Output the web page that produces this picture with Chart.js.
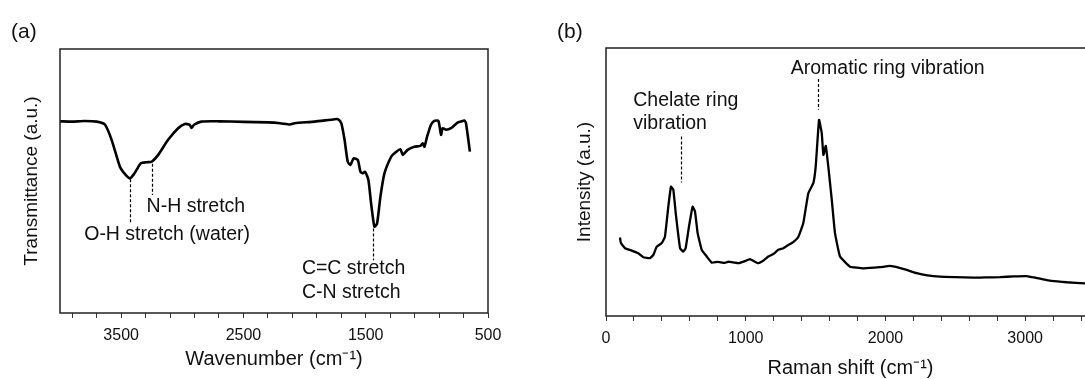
<!DOCTYPE html>
<html>
<head>
<meta charset="utf-8">
<script src="https://cdn.jsdelivr.net/npm/chart.js@4.4.1/dist/chart.umd.min.js"></script>
<style>
  html, body { margin: 0; padding: 0; background: #fff; overflow: hidden; }
  body { width: 1085px; height: 379px; position: relative; }
  #ftir { position: absolute; left: 0; top: 0; }
  #raman { position: absolute; left: 545px; top: 0; }
</style>
</head>
<body>
<canvas id="ftir" width="540" height="379"></canvas>
<canvas id="raman" width="560" height="379"></canvas>
<script>
// ---------- (a) FTIR ----------
const ftirWavenumber = [4000, 3900, 3800, 3700, 3633, 3578, 3510, 3470, 3429, 3400, 3374, 3339, 3292, 3251, 3197, 3116, 3034, 2980, 2939, 2925, 2904, 2844,
  2700, 2500, 2300, 2200, 2120, 2082, 1918, 1755, 1728, 1700, 1673, 1647, 1625, 1598, 1565, 1543, 1524, 1505, 1478, 1456, 1429, 1407, 1380, 1347,
  1292, 1265, 1216, 1198, 1157, 1102, 1053, 1034, 1020, 998, 966, 939, 906, 884, 871, 843, 802, 749, 721, 694, 680, 648];
const ftirTransmittance = [72.6, 72.5, 72.7, 72.5, 71.4, 65.6, 55.4, 52.7, 51.0, 52.3, 54.2, 56.7, 57.1, 57.3, 59.9, 65.6, 70.0, 71.6, 71.3, 70.1, 71.3, 72.5,
  72.6, 72.4, 72.2, 71.9, 71.4, 71.9, 72.5, 73.4, 73.4, 71.9, 65.6, 57.3, 56.1, 58.6, 58.0, 53.5, 52.9, 53.5, 50.4, 41.5, 32.7, 33.9, 44.0, 52.9,
  59.2, 60.5, 62.0, 59.9, 61.8, 63.0, 63.3, 64.3, 63.0, 66.8, 71.3, 72.8, 72.8, 67.5, 70.0, 69.4, 70.0, 72.1, 72.5, 72.9, 71.9, 61.1];
const ftirTicks = [3900, 3700, 3500, 3300, 3100, 2900, 2700, 2500, 2300, 2100, 1900, 1700, 1500, 1300, 1100, 900, 700, 500];
const ftirTickLabels = [3500, 2500, 1500, 500];

// ---------- (b) Raman ----------
const ramanShift = [100, 107, 136, 184, 231, 267, 315, 339, 363, 399, 422, 446, 465, 482, 499, 530, 553, 570, 594, 620, 637, 656, 685, 721, 757,
  800, 850, 876, 920, 947, 990, 1031, 1060, 1090, 1130, 1162, 1200, 1233, 1270, 1305, 1340, 1377, 1412, 1448, 1484, 1501, 1525, 1544, 1556, 1573,
  1591, 1616, 1639, 1675, 1747, 1842, 1961, 2033, 2100, 2152, 2224, 2300, 2391, 2500, 2629, 2720, 2820, 2920, 3011, 3080, 3155, 3230, 3298, 3429, 3500];
const ramanIntensity = [29.3, 27.2, 25.3, 24.4, 23.4, 21.9, 21.6, 22.8, 25.9, 27.2, 29.6, 40.8, 48.3, 47.1, 38.4, 25.3, 24.0, 25.3, 33.4, 40.8, 39.0, 30.9, 24.7, 22.2, 19.9,
  20.2, 19.8, 20.3, 19.9, 19.7, 20.4, 21.2, 20.4, 19.7, 20.8, 22.2, 23.2, 24.7, 25.3, 26.5, 27.6, 29.6, 34.6, 45.8, 49.6, 55.8, 73.2, 68.3, 60.1, 63.5,
  55.8, 43.3, 30.9, 22.2, 18.4, 17.8, 18.2, 18.7, 18.0, 17.2, 16.0, 15.2, 14.7, 14.5, 14.3, 14.4, 14.5, 14.8, 14.9, 14.2, 13.4, 12.9, 12.6, 12.2, 12.0];
const ramanTicks = [0, 200, 400, 600, 800, 1000, 1200, 1400, 1600, 1800, 2000, 2200, 2400, 2600, 2800, 3000, 3200, 3400];
const ramanTickLabels = [0, 1000, 2000, 3000];

// annotations, in data units
const ftirLeaders = [{ x: 3429, y1: 50.7, y2: 33.7 }, { x: 3251, y1: 56.5, y2: 44.7 }, { x: 1443, y1: 32.0, y2: 20.0 }];
const ftirNotes = [
  { text: 'N-H stretch', x: 3292, y: 38.1 },
  { text: 'O-H stretch (water)', x: 3802, y: 27.6 },
  { text: 'C=C stretch', x: 2022, y: 14.6 },
  { text: 'C-N stretch', x: 2022, y: 5.5 }
];
const ramanLeaders = [{ x: 535, y1: 67.0, y2: 49.8 }, { x: 1515, y1: 88.4, y2: 77.0 }];
const ramanNotes = [
  { text: 'Chelate ring', x: 195, y: 78.2 },
  { text: 'vibration', x: 195, y: 69.8 },
  { text: 'Aromatic ring vibration', x: 1322, y: 90.4 }
];

const FONT = '"Liberation Sans", Arial, Helvetica, sans-serif';
Chart.defaults.font.family = FONT;
Chart.defaults.color = '#111';

const framePlugin = {
  id: 'frame',
  afterDraw(chart, args, opts) {
    const { ctx, chartArea: a, scales: { x, y } } = chart;
    ctx.save();
    ctx.strokeStyle = '#222';
    ctx.lineWidth = 1.5;
    ctx.strokeRect(a.left, a.top, a.right - a.left, a.bottom - a.top);
    ctx.strokeStyle = '#000';
    ctx.lineWidth = 1.2;
    ctx.setLineDash([3, 2]);
    opts.leaders.forEach(l => {
      const px = Math.round(x.getPixelForValue(l.x)) + 0.5;
      ctx.beginPath();
      ctx.moveTo(px, y.getPixelForValue(l.y1));
      ctx.lineTo(px, y.getPixelForValue(l.y2));
      ctx.stroke();
    });
    ctx.setLineDash([]);
    ctx.fillStyle = '#111';
    ctx.textBaseline = 'alphabetic';
    ctx.textAlign = 'left';
    ctx.font = '19.5px ' + FONT;
    opts.notes.forEach(n => ctx.fillText(n.text, x.getPixelForValue(n.x), y.getPixelForValue(n.y)));
    ctx.font = '21px ' + FONT;
    ctx.fillText(opts.panel, opts.panelX, 38);
    ctx.restore();
  }
};

function makeChart(id, cfg) {
  const pts = cfg.xs.map((v, i) => ({ x: v, y: cfg.ys[i] }));
  return new Chart(document.getElementById(id), {
    type: 'line',
    data: { datasets: [{ data: pts, borderColor: '#000', borderWidth: cfg.lineWidth, pointRadius: 0, tension: cfg.tension, fill: false }] },
    options: {
      responsive: false,
      animation: false,
      layout: { padding: cfg.padding },
      plugins: { legend: { display: false }, tooltip: { enabled: false }, frame: cfg.frame },
      scales: {
        x: {
          type: 'linear', min: cfg.min, max: cfg.max, reverse: cfg.reverse,
          afterBuildTicks: ax => { ax.ticks = cfg.ticks.map(v => ({ value: v })); },
          afterFit: ax => { ax.height = cfg.xHeight; },
          ticks: { autoSkip: false, maxRotation: 0, padding: cfg.tickPad, font: { size: 16 }, color: '#111',
            callback: v => cfg.labels.includes(v) ? String(v) : '' },
          grid: { display: true, drawOnChartArea: false, drawTicks: true, tickLength: 5, tickColor: '#333', tickWidth: 1 },
          border: { display: false },
          title: { display: true, text: cfg.xTitle, font: { size: 20, lineHeight: 1 }, color: '#111', padding: { top: 0, bottom: cfg.xTitlePad } }
        },
        y: {
          min: 0, max: 100,
          afterFit: ax => { ax.width = cfg.yWidth; },
          ticks: { display: false },
          grid: { display: false },
          border: { display: false },
          title: { display: true, text: cfg.yTitle, font: { size: 19, lineHeight: 1.2 }, color: '#111', padding: { top: cfg.yTitlePad, bottom: 0 } }
        }
      }
    },
    plugins: [framePlugin]
  });
}

makeChart('ftir', {
  xs: ftirWavenumber, ys: ftirTransmittance, lineWidth: 2.6, tension: 0.2,
  min: 500, max: 4000, reverse: true, ticks: ftirTicks, labels: ftirTickLabels,
  padding: { left: 0, top: 49, right: 52, bottom: 0 }, xHeight: 66, yWidth: 60,
  tickPad: 8, xTitle: 'Wavenumber (cm\u207B\u00B9)', xTitlePad: 10,
  yTitle: 'Transmittance (a.u.)', yTitlePad: 20,
  frame: { leaders: ftirLeaders, notes: ftirNotes, panel: '(a)', panelX: 11 }
});

makeChart('raman', {
  xs: ramanShift, ys: ramanIntensity, lineWidth: 2.3, tension: 0.1,
  min: 0, max: 3500, reverse: false, ticks: ramanTicks, labels: ramanTickLabels,
  padding: { left: 0, top: 48, right: 10, bottom: 0 }, xHeight: 63, yWidth: 61,
  tickPad: 8, xTitle: 'Raman shift (cm\u207B\u00B9)', xTitlePad: 1,
  yTitle: 'Intensity (a.u.)', yTitlePad: 28,
  frame: { leaders: ramanLeaders, notes: ramanNotes, panel: '(b)', panelX: 12 }
});
</script>
</body>
</html>
